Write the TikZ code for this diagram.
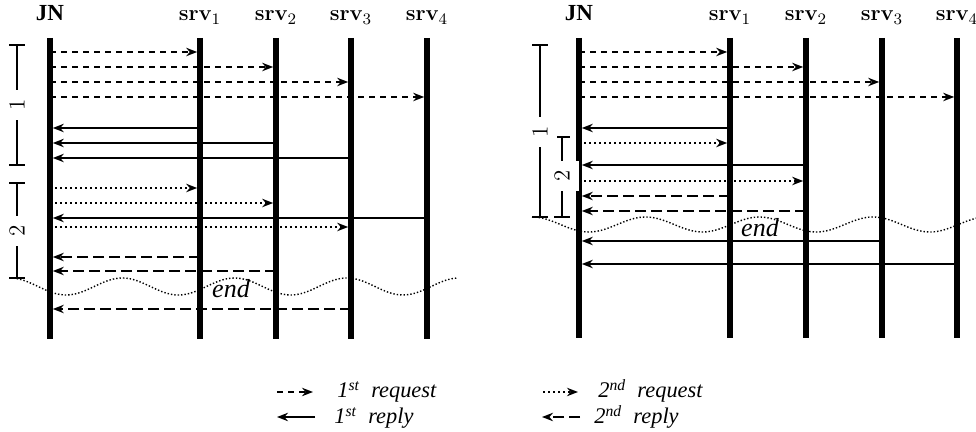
\documentclass[tikz,border=0pt]{standalone}
\usepackage{fontspec}
\newfontfamily\tms{Liberation Serif}
\usetikzlibrary{arrows.meta}
\tikzset{
  life/.style={line width=2.8pt},
  msgline/.style={line width=1.2pt, -{Stealth[length=5.5pt,width=4.2pt,inset=1.8pt]}, shorten >=1.4pt},
  reqA/.style={msgline, dash pattern=on 3pt off 2.5pt},
  repA/.style={msgline},
  reqB/.style={msgline, dash pattern=on 1pt off 1.5pt},
  repB/.style={msgline, dash pattern=on 5.5pt off 2.5pt},
  legA/.style={msgline, shorten >=0pt},
  head/.style={font=\fontsize{11}{13}\selectfont\bfseries, inner sep=0pt, anchor=base},
  headjn/.style={font=\tms\bfseries\fontsize{11.5}{13}\selectfont, inner sep=0pt, anchor=base},
  brk/.style={line width=1pt},
  brklab/.style={fill=white, inner sep=4.5pt, rotate=90, font=\fontsize{11.5}{13}\selectfont},
  wave/.style={line width=0.7pt, dash pattern=on 0.7pt off 1pt},
  endlab/.style={font=\tms\itshape\fontsize{13}{15}\selectfont, inner sep=0pt},
  leg/.style={font=\tms\itshape\fontsize{11.2}{13}\selectfont, inner sep=0pt, anchor=base west, text height=7pt, text depth=2pt},
}
\begin{document}
\begin{tikzpicture}[x=0.5pt,y=-0.5pt]
\useasboundingbox (0,0) rectangle (976,432);

% ---------------- LEFT DIAGRAM ----------------
\node[headjn] (hA0) at (50,21) {JN};
\node[head] (hA1) at (200,21) {srv$_1$};
\node[head] (hA2) at (276,21) {srv$_2$};
\node[head] (hA3) at (351,21) {srv$_3$};
\node[head] (hA4) at (427,21) {srv$_4$};
\foreach \n/\x in {0/50,1/200,2/276,3/351,4/427}{
  \coordinate (A\n) at (\x,38);
  \coordinate (A\n b) at (\x,339);
  \draw[life] (A\n) -- (A\n b);
}
% first requests
\draw[reqA] (A0 |- 0,52) -- (A1 |- 0,52);
\draw[reqA] (A0 |- 0,67) -- (A2 |- 0,67);
\draw[reqA] (A0 |- 0,82) -- (A3 |- 0,82);
\draw[reqA] (A0 |- 0,97) -- (A4 |- 0,97);
% first replies
\draw[repA] (A1 |- 0,128) -- (A0 |- 0,128);
\draw[repA] (A2 |- 0,143) -- (A0 |- 0,143);
\draw[repA] (A3 |- 0,158) -- (A0 |- 0,158);
\draw[repA] (A4 |- 0,218) -- (A0 |- 0,218);
% second requests
\draw[reqB] (A0 |- 0,188) -- (A1 |- 0,188);
\draw[reqB] (A0 |- 0,203) -- (A2 |- 0,203);
\draw[reqB] (A0 |- 0,227) -- (A3 |- 0,227);
% second replies
\draw[repB] (A1 |- 0,257) -- (A0 |- 0,257);
\draw[repB] (A2 |- 0,271) -- (A0 |- 0,271);
\draw[repB] (A3 |- 0,309) -- (A0 |- 0,309);
% brackets
\coordinate (bA1t) at (17,45);  \coordinate (bA1b) at (17,165);
\coordinate (bA2t) at (17,183); \coordinate (bA2b) at (17,278);
\draw[brk] (bA1t) -- (bA1b);
\draw[brk] ([xshift=-4pt]bA1t) -- ([xshift=4pt]bA1t);
\draw[brk] ([xshift=-4pt]bA1b) -- ([xshift=4pt]bA1b);
\draw[brk] (bA2t) -- (bA2b);
\draw[brk] ([xshift=-4pt]bA2t) -- ([xshift=4pt]bA2t);
\draw[brk] ([xshift=-4pt]bA2b) -- ([xshift=4pt]bA2b);
\node[brklab] (lA1) at (17,105) {1};
\node[brklab] (lA2) at (17,231) {2};
% wave
\draw[wave] plot[domain=10:457,samples=150,smooth] (\x,{286.5-8.5*cos(3.2057*(\x-10))});
\node[endlab] (eA) at (231,289) {end};

% ---------------- RIGHT DIAGRAM ----------------
\node[headjn] (hB0) at (579,21) {JN};
\node[head] (hB1) at (730,21) {srv$_1$};
\node[head] (hB2) at (806,21) {srv$_2$};
\node[head] (hB3) at (882,21) {srv$_3$};
\node[head] (hB4) at (957,21) {srv$_4$};
\foreach \n/\x in {0/579,1/730,2/806,3/882,4/957}{
  \coordinate (B\n) at (\x,38);
  \coordinate (B\n b) at (\x,338);
  \draw[life] (B\n) -- (B\n b);
}
\draw[reqA] (B0 |- 0,52) -- (B1 |- 0,52);
\draw[reqA] (B0 |- 0,67) -- (B2 |- 0,67);
\draw[reqA] (B0 |- 0,82) -- (B3 |- 0,82);
\draw[reqA] (B0 |- 0,97) -- (B4 |- 0,97);
\draw[repA] (B1 |- 0,128) -- (B0 |- 0,128);
\draw[reqB] (B0 |- 0,143) -- (B1 |- 0,143);
\draw[repA] (B2 |- 0,165) -- (B0 |- 0,165);
\draw[reqB] (B0 |- 0,181) -- (B2 |- 0,181);
\draw[repB] (B1 |- 0,196) -- (B0 |- 0,196);
\draw[repB] (B2 |- 0,211) -- (B0 |- 0,211);
\draw[repA] (B3 |- 0,241) -- (B0 |- 0,241);
\draw[repA] (B4 |- 0,264) -- (B0 |- 0,264);
% brackets
\coordinate (bB1t) at (540,45);  \coordinate (bB1b) at (540,217);
\coordinate (bB2t) at (562,137); \coordinate (bB2b) at (562,217);
\draw[brk] (bB1t) -- (bB1b);
\draw[brk] ([xshift=-4pt]bB1t) -- ([xshift=4pt]bB1t);
\draw[brk] ([xshift=-4pt]bB1b) -- ([xshift=4pt]bB1b);
\draw[brk] (bB2t) -- (bB2b);
\draw[brk] ([xshift=-4pt]bB2t) -- ([xshift=4pt]bB2t);
\draw[brk] ([xshift=-4pt]bB2b) -- ([xshift=4pt]bB2b);
\node[brklab] (lB1) at (540,132) {1};
\node[brklab] (lB2) at (562,176) {2};
% wave
\draw[wave] plot[domain=532:980,samples=150,smooth] (\x,{224.5-7.5*cos(3.1662*(\x-532))});
\node[endlab] (eB) at (760,228) {end};

% ---------------- LEGEND ----------------
\coordinate (g1a) at (277,392); \coordinate (g1b) at (313,392);
\coordinate (g2a) at (315,417); \coordinate (g2b) at (277,417);
\coordinate (g3a) at (543,392); \coordinate (g3b) at (578,392);
\coordinate (g4a) at (580,417); \coordinate (g4b) at (542,417);
\draw[legA, dash pattern=on 3pt off 2.5pt] (g1a) -- (g1b);
\draw[legA] (g2a) -- (g2b);
\draw[legA, dash pattern=on 1pt off 1.5pt] (g3a) -- (g3b);
\draw[legA, dash pattern=on 5.5pt off 2.5pt] (g4a) -- (g4b);
\node[leg] (t1) at (337,398) {1\textsuperscript{st}\ \ request};
\node[leg] (t2) at (334,424) {1\textsuperscript{st}\ \ reply};
\node[leg] (t3) at (598,398) {2\textsuperscript{nd}\ \ request};
\node[leg] (t4) at (594,424) {2\textsuperscript{nd}\ \ reply};
\end{tikzpicture}
\end{document}
